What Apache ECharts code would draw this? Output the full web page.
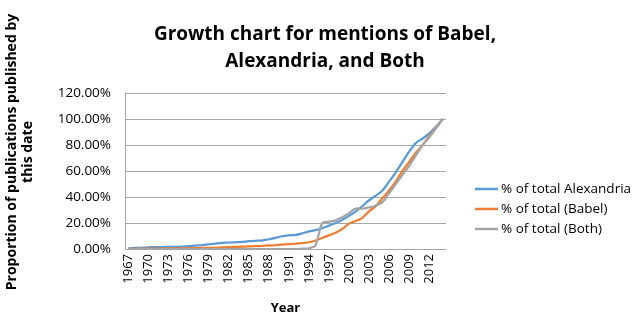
<!DOCTYPE html>
<html>
<head>
<meta charset="utf-8">
<script src="https://cdn.jsdelivr.net/npm/echarts@6/dist/echarts.min.js"></script>
<style>
  html, body { margin: 0; padding: 0; background: #fff; }
  #chart { width: 642px; height: 313px; }
</style>
</head>
<body>
<div id="chart"></div>
<script>
// 年份 1967 - 2014
const years = [];
for (let y = 1967; y <= 2014; y++) years.push(String(y));

const alexandria = [
  0.5, 0.8, 1.0, 1.3, 1.5, 1.5, 1.6, 1.7, 1.8, 2.2,
  2.6, 3.0, 3.5, 4.2, 4.8, 5.0, 5.2, 5.5, 6.0, 6.3,
  6.5, 7.5, 8.5, 9.8, 10.5, 10.8, 12.0, 13.5, 14.5, 16.0,
  18.0, 20.0, 22.5, 25.5, 29.0, 33.0, 37.5, 41.0, 45.0, 52.0,
  59.0, 67.0, 75.0, 81.5, 85.0, 89.0, 94.0, 100
];

const babel = [
  0.1, 0.1, 0.2, 0.2, 0.3, 0.3, 0.4, 0.4, 0.5, 0.6,
  0.7, 0.8, 0.9, 1.0, 1.2, 1.4, 1.6, 1.8, 2.0, 2.2,
  2.4, 2.7, 3.0, 3.4, 3.8, 4.1, 4.5, 5.2, 6.5, 8.5,
  10.5, 12.5, 15.5, 19.5, 21.5, 24.0, 29.0, 33.0, 39.0, 45.0,
  52.0, 60.0, 67.0, 74.0, 80.0, 87.0, 93.0, 100
];

const both = [
  0, 0, 0, 0, 0, 0, 0, 0, 0, 0,
  0, 0, 0, 0, 0, 0, 0, 0, 0, 0,
  0, 0, 0, 0, 0, 0, 0.2, 0.5, 3.0, 20.0,
  21.0, 22.0, 24.5, 27.5, 31.0, 31.0, 32.0, 33.5, 36.0, 43.0,
  50.0, 57.0, 64.0, 72.0, 80.0, 86.0, 93.0, 100
];

const yTicks = [0, 20, 40, 60, 80, 100, 120];

const font = "'Open Sans', 'Liberation Sans', sans-serif";

const chart = echarts.init(document.getElementById("chart"));
const mkSeries = (name, data, color) => ({
  name: name,
  type: "line",
  data: data,
  smooth: 0.3,
  symbol: "none",
  lineStyle: { width: 2.25, color: color },
  itemStyle: { color: color },
});

const option = {
  animation: false,
  title: {
    text: "Growth chart for mentions of Babel,\nAlexandria, and Both",
    left: 320,
    textAlign: "center",
    top: 16,
    textStyle: {
      fontFamily: font,
      fontWeight: "bold",
      fontSize: 19,
      lineHeight: 27,
      color: "#000",
    },
  },
  legend: {
    orient: "vertical",
    left: 470,
    top: 177,
    itemGap: 6,
    icon: "rect",
    itemWidth: 23,
    itemHeight: 2.5,
    textStyle: { fontFamily: font, fontSize: 13.5, color: "#000", padding: [0, 0, 0, -2] },
    data: ["% of total Alexandria", "% of total (Babel)", "% of total (Both)"],
  },
  grid: { left: 125, right: 196, top: 93, bottom: 64, outerBoundsMode: "none" },
  xAxis: {
    type: "category",
    data: years,
    boundaryGap: true,
    name: "Year",
    nameLocation: "middle",
    nameGap: 53,
    nameTextStyle: { fontFamily: font, fontWeight: "bold", fontSize: 13, color: "#000" },
    axisLine: { show: false },
    axisTick: { show: false },
    axisLabel: {
      interval: 2,
      rotate: 90,
      margin: 5,
      fontFamily: font,
      fontSize: 13,
      color: "#000",
    },
  },
  yAxis: {
    type: "value",
    min: 0,
    max: 120,
    interval: 20,
    name: "Proportion of publications published by\nthis date",
    nameLocation: "middle",
    nameGap: 89,
    nameTextStyle: {
      fontFamily: font,
      fontWeight: "bold",
      fontSize: 14,
      lineHeight: 16,
      color: "#000",
      padding: [0, 0, 0, 38],
    },
    axisLine: { show: true, lineStyle: { color: "#a6a6a6", width: 1 } },
    axisTick: { show: false },
    splitLine: { lineStyle: { color: "#a6a6a6", width: 1 } },
    axisLabel: {
      margin: 14,
      fontFamily: font,
      fontSize: 13.5,
      color: "#000",
      formatter: (v) => (yTicks.includes(v) ? v.toFixed(2) + "%" : ""),
    },
  },
  series: [
    mkSeries("% of total Alexandria", alexandria, "#5b9bd5"),
    mkSeries("% of total (Babel)", babel, "#ed7d31"),
    mkSeries("% of total (Both)", both, "#a5a5a5"),
  ],
};
chart.setOption(option);
window.addEventListener("resize", () => chart.resize());
</script>
</body>
</html>
